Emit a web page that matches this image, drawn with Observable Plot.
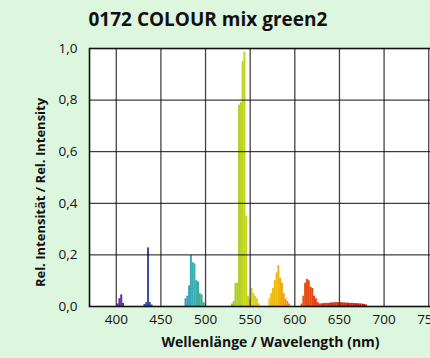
<!DOCTYPE html>
<html><head><meta charset="utf-8">
<script src="https://cdn.jsdelivr.net/npm/d3@7"></script>
<script src="https://cdn.jsdelivr.net/npm/@observablehq/plot@0.6"></script>
<style>
html,body{margin:0;padding:0;background:#ddf6de;overflow:hidden;width:430px;height:358px}
#chart svg{display:block;overflow:visible;max-width:none !important;width:470px !important;height:358px !important}
</style></head><body><div id="chart"></div>
<script>
const title = "0172 COLOUR mix green2";
const xLabel = "Wellenlänge / Wavelength (nm)";
const yLabel = "Rel. Intensität / Rel. Intensity";
const xTicks = [400, 450, 500, 550, 600, 650, 700, 750];
const yTicks = [0, 0.2, 0.4, 0.6, 0.8, 1.0];

const wavelengths = [
  402, 404, 406, 408,
  432, 434, 436, 438, 440,
  478, 480, 482, 484, 486, 488, 490, 492, 494, 496, 498, 500,
  530, 532, 534, 536, 538, 540, 542, 544, 546, 548,
  550, 552, 554, 556, 558, 560,
  572, 574, 576, 578, 580, 582, 584, 586, 588, 590, 592, 594,
  608, 610, 612, 614, 616, 618, 620, 622, 624, 626,
  628, 630, 632, 634, 636, 638, 640, 642, 644, 646, 648, 650, 652, 654,
  656, 658, 660, 662, 664, 666, 668, 670, 672, 674, 676, 678, 680
];
const intensity = [
  0.01, 0.03, 0.045, 0.012,
  0.008, 0.015, 0.227, 0.015, 0.006,
  0.03, 0.04, 0.08, 0.198, 0.17, 0.165, 0.1, 0.095, 0.05, 0.045, 0.015, 0.01,
  0.01, 0.02, 0.09, 0.09, 0.78, 0.79, 0.95, 0.986, 0.35, 0.04,
  0.03, 0.07, 0.05, 0.04, 0.03, 0.01,
  0.03, 0.05, 0.07, 0.1, 0.13, 0.158, 0.11, 0.09, 0.05, 0.03, 0.02, 0.01,
  0.01, 0.04, 0.09, 0.105, 0.1, 0.075, 0.07, 0.04, 0.03, 0.015,
  0.01, 0.01, 0.011, 0.012, 0.012, 0.012, 0.013, 0.014, 0.014, 0.015, 0.015, 0.015, 0.015, 0.014,
  0.014, 0.013, 0.013, 0.012, 0.012, 0.012, 0.011, 0.011, 0.01, 0.01, 0.009, 0.008, 0.006
];

// spectral colour stops (wavelength -> colour)
const colorStops = [380, 405, 436, 470, 485, 495, 510, 530, 545, 560, 580, 600, 611, 640, 700];
const colorValues = ["#7a2a9a", "#5a2aa0", "#3a4aaa", "#3a8ab8", "#3aaab8", "#3aae98", "#50b050", "#a0c830", "#c4d61e", "#e8d010", "#f0b810", "#f08010", "#e85010", "#d83010", "#c81010"];

const data = wavelengths.map((wl, i) => ({wl, v: intensity[i]}));
const fmt = d => d.toFixed(1).replace(".", ",");

const chart = Plot.plot({
  width: 470,
  height: 358,
  marginLeft: 89,
  marginRight: 15,
  marginTop: 48,
  marginBottom: 52,
  style: {fontFamily: "Open Sans", fontSize: "13.5px", color: "#111", background: "transparent", overflow: "visible"},
  x: {domain: [370, 780], ticks: xTicks, tickSize: 0, tickPadding: 8, label: null},
  y: {domain: [0, 1], ticks: yTicks, tickSize: 0, tickPadding: 12, tickFormat: fmt, label: null},
  color: {type: "linear", domain: colorStops, range: colorValues, interpolate: "rgb"},
  marks: [
    Plot.frame({fill: "white"}),
    Plot.rectY(data, {x1: d => d.wl - 1, x2: d => d.wl + 1.25, y: "v", fill: "wl"}),
    Plot.ruleX(xTicks, {stroke: "#444", strokeWidth: 1.3}),
    Plot.ruleY(yTicks.slice(1, -1), {stroke: "#111", strokeWidth: 1}),
    Plot.frame({stroke: "#111", strokeWidth: 1.6}),
    Plot.text([title], {frameAnchor: "top-left", textAnchor: "start", lineAnchor: "middle", dx: -1, dy: -28.5, fontSize: 19, fontWeight: "bold", fill: "#111"}),
    Plot.text([xLabel], {frameAnchor: "bottom-left", textAnchor: "middle", lineAnchor: "middle", dx: 270 - 89, dy: 36, fontSize: 14, fontWeight: "bold", fill: "#111"}),
    Plot.text([yLabel], {frameAnchor: "left", textAnchor: "middle", lineAnchor: "middle", rotate: -90, dx: -49, dy: 15, fontSize: 13, fontWeight: "bold", fill: "#111"})
  ]
});
document.getElementById("chart").append(chart);
</script>
</body></html>
